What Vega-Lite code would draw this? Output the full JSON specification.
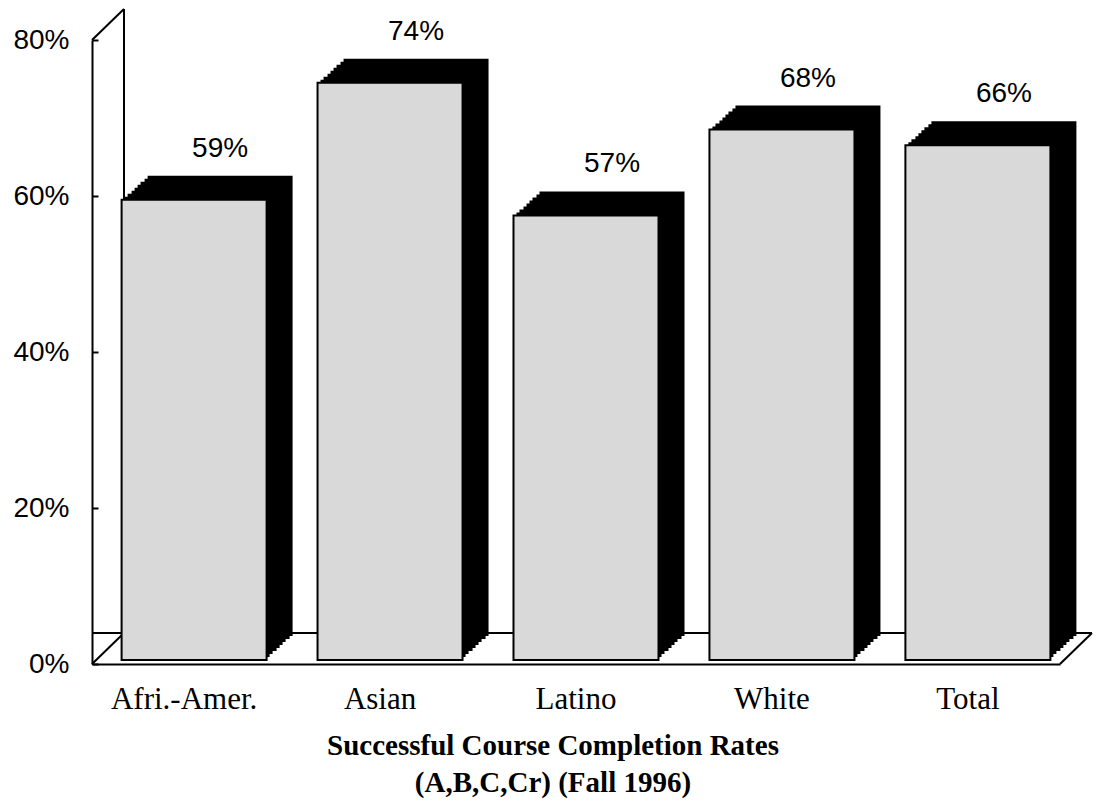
{
  "$schema": "https://vega.github.io/schema/vega-lite/v6.json",
  "width": 968,
  "height": 624,
  "autosize": "none",
  "padding": {"left": 92, "top": 40, "right": 37, "bottom": 137},
  "background": "white",
  "config": {"view": {"stroke": null}},
  "datasets": {
    "rates": [
      {"group": "Afri.-Amer.", "value": 59, "label": "59%"},
      {"group": "Asian", "value": 74, "label": "74%"},
      {"group": "Latino", "value": 57, "label": "57%"},
      {"group": "White", "value": 68, "label": "68%"},
      {"group": "Total", "value": 66, "label": "66%"}
    ],
    "frame": [{"part": "frame"}]
  },
  "data": {"name": "rates"},
  "title": {
    "text": ["Successful Course Completion Rates", "(A,B,C,Cr) (Fall 1996)"],
    "orient": "bottom",
    "frame": "bounds",
    "anchor": "middle",
    "font": "Liberation Serif",
    "fontSize": 29,
    "fontWeight": "bold",
    "color": "black",
    "lineHeight": 37,
    "offset": 18
  },
  "layer": [
    {
      "data": {"name": "frame"},
      "mark": {"type": "rule", "color": "black", "strokeWidth": 2, "xOffset": 32, "yOffset": -31, "y2Offset": -31},
      "encoding": {
        "x": {"value": 0},
        "y": {"datum": 0, "type": "quantitative", "title": null},
        "y2": {"datum": 80}
      }
    },
    {
      "data": {"name": "frame"},
      "mark": {"type": "rule", "color": "black", "strokeWidth": 2, "xOffset": 32, "x2Offset": 32, "yOffset": -31},
      "encoding": {
        "y": {"datum": 0, "type": "quantitative", "title": null}
      }
    },
    {
      "data": {"name": "frame"},
      "mark": {"type": "rule", "color": "black", "strokeWidth": 2, "x2Offset": 32, "y2Offset": -31},
      "encoding": {
        "x": {"value": 0},
        "x2": {"value": 0},
        "y": {"datum": 0, "type": "quantitative", "title": null},
        "y2": {"datum": 0}
      }
    },
    {
      "data": {"name": "frame"},
      "mark": {"type": "rule", "color": "black", "strokeWidth": 2, "x2Offset": 32, "y2Offset": -31},
      "encoding": {
        "x": {"value": 0},
        "x2": {"value": 0},
        "y": {"datum": 80, "type": "quantitative", "title": null},
        "y2": {"datum": 80}
      }
    },
    {
      "data": {"name": "frame"},
      "mark": {"type": "rule", "color": "black", "strokeWidth": 2, "x2Offset": 32, "y2Offset": -31},
      "encoding": {
        "x": {"value": {"expr": "width"}},
        "x2": {"value": {"expr": "width"}},
        "y": {"datum": 0, "type": "quantitative", "title": null},
        "y2": {"datum": 0}
      }
    },
    {"mark": {"type": "bar", "color": "black", "xOffset": 13, "yOffset": -7, "y2Offset": -7},
     "encoding": {"x": {"field": "group", "type": "nominal", "sort": null, "title": null}, "y": {"field": "value", "type": "quantitative", "title": null}}},
    {"mark": {"type": "bar", "color": "black", "xOffset": 16, "yOffset": -10, "y2Offset": -10},
     "encoding": {"x": {"field": "group", "type": "nominal", "sort": null, "title": null}, "y": {"field": "value", "type": "quantitative", "title": null}}},
    {"mark": {"type": "bar", "color": "black", "xOffset": 20, "yOffset": -13, "y2Offset": -13},
     "encoding": {"x": {"field": "group", "type": "nominal", "sort": null, "title": null}, "y": {"field": "value", "type": "quantitative", "title": null}}},
    {"mark": {"type": "bar", "color": "black", "xOffset": 23, "yOffset": -16, "y2Offset": -16},
     "encoding": {"x": {"field": "group", "type": "nominal", "sort": null, "title": null}, "y": {"field": "value", "type": "quantitative", "title": null}}},
    {"mark": {"type": "bar", "color": "black", "xOffset": 26, "yOffset": -19, "y2Offset": -19},
     "encoding": {"x": {"field": "group", "type": "nominal", "sort": null, "title": null}, "y": {"field": "value", "type": "quantitative", "title": null}}},
    {"mark": {"type": "bar", "color": "black", "xOffset": 29, "yOffset": -22, "y2Offset": -22},
     "encoding": {"x": {"field": "group", "type": "nominal", "sort": null, "title": null}, "y": {"field": "value", "type": "quantitative", "title": null}}},
    {"mark": {"type": "bar", "color": "black", "xOffset": 33, "yOffset": -25, "y2Offset": -25},
     "encoding": {"x": {"field": "group", "type": "nominal", "sort": null, "title": null}, "y": {"field": "value", "type": "quantitative", "title": null}}},
    {"mark": {"type": "bar", "color": "black", "xOffset": 36, "yOffset": -28, "y2Offset": -28},
     "encoding": {"x": {"field": "group", "type": "nominal", "sort": null, "title": null}, "y": {"field": "value", "type": "quantitative", "title": null}}},
    {
      "mark": {"type": "bar", "fill": "#d9d9d9", "stroke": "black", "strokeWidth": 2, "xOffset": 10, "yOffset": -4, "y2Offset": -4},
      "encoding": {
        "x": {
          "field": "group", "type": "nominal", "sort": null,
          "scale": {"paddingInner": 0.26, "paddingOuter": 0.1},
          "axis": {
            "title": null, "labelAngle": 0, "labelFont": "Liberation Serif", "labelFontSize": 31,
            "labelColor": "black", "labelBaseline": "alphabetic", "labelPadding": 44, "bandPosition": 0.5,
            "labelAlign": "center",
            "ticks": false, "tickSize": 0, "domainColor": "black", "domainWidth": 2, "grid": false
          }
        },
        "y": {
          "field": "value", "type": "quantitative",
          "scale": {"domain": [0, 80], "nice": false, "zero": true},
          "axis": {
            "title": null, "values": [0, 20, 40, 60, 80], "labelExpr": "datum.value + '%'",
            "labelFont": "Liberation Sans", "labelFontSize": 28, "labelColor": "black",
            "labelPadding": 29, "tickSize": -6, "ticks": true, "tickColor": "black", "tickWidth": 2,
            "domainColor": "black", "domainWidth": 2, "grid": false
          }
        }
      }
    },
    {
      "mark": {"type": "text", "font": "Liberation Sans", "fontSize": 28, "color": "black", "baseline": "alphabetic", "align": "center", "xOffset": 36, "dy": -47},
      "encoding": {
        "x": {"field": "group", "type": "nominal", "sort": null, "title": null},
        "y": {"field": "value", "type": "quantitative", "title": null},
        "text": {"field": "label", "type": "nominal"}
      }
    }
  ]
}
